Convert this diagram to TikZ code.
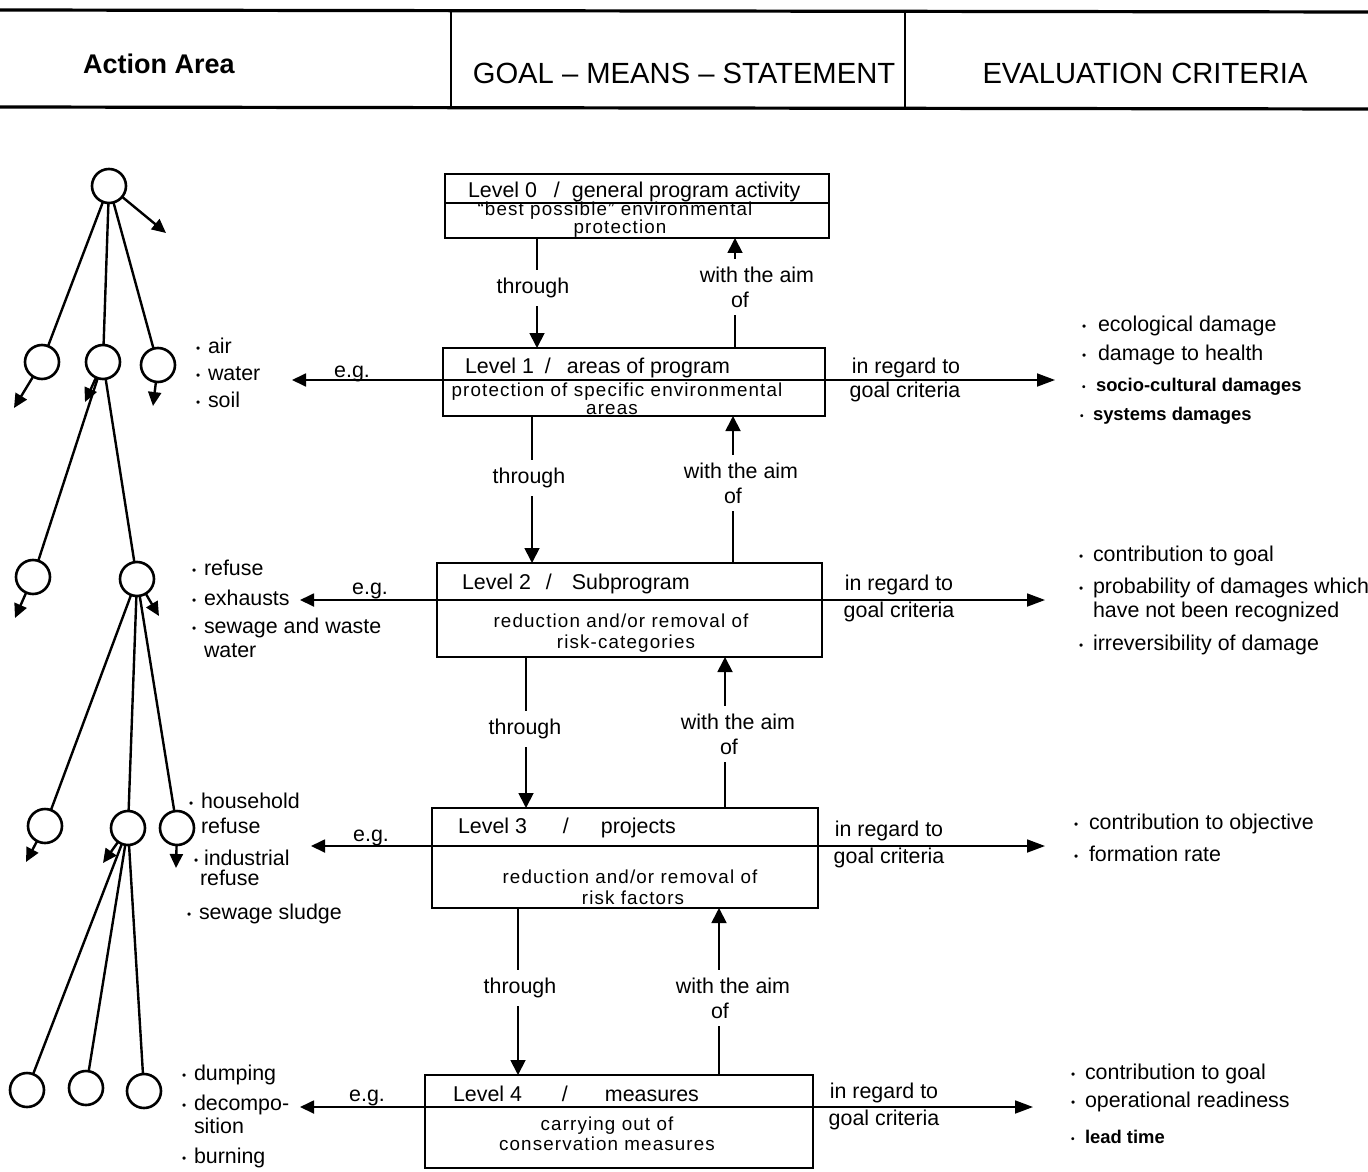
\documentclass[tikz,border=0pt]{standalone}
\usepackage{fontspec}
\setmainfont{Liberation Sans}
\newfontfamily\boxfont[LetterSpace=6]{Liberation Sans}
\usetikzlibrary{arrows.meta,fit}
% small list bullet, boxed so the item text starts at a fixed offset
\newcommand\itemdot[1][6pt]{\makebox[#1][l]{\raisebox{0.08ex}{\scalebox{0.55}{•}}}}
\begin{document}
\begin{tikzpicture}[x=0.5pt,y=-0.5pt,
  every node/.style={inner sep=0pt,outer sep=0pt},
  txt/.style={font=\fontsize{10.7}{12.5}\selectfont},
  boldtxt/.style={font=\fontsize{9.2}{11}\selectfont\bfseries,anchor=base west},
  hdr/.style={font=\fontsize{14.6}{17}\selectfont},
  lst/.style={txt,anchor=base west},
  ctr/.style={txt,anchor=base},
  boxtxt/.style={font=\fontsize{9.4}{11}\boxfont,anchor=base},
  lab/.style={txt,fill=white,inner xsep=2pt,inner ysep=4pt,align=center},
  lvlbox/.style={draw,line width=0.8pt,inner sep=0pt},
  conn/.style={line width=0.9pt},
  downtip/.style={-{Triangle[length=7.5pt,width=7.5pt]}},
  ltip/.style={-{Triangle[length=7pt,width=6.5pt]}},
  rtip/.style={-{Triangle[length=9pt,width=6.5pt]}},
  ring/.style={circle,draw,line width=1.3pt,minimum size=17pt},
  limb/.style={line width=1.2pt},
  treetip/.style={-{Triangle[length=7pt,width=6.5pt]}},
  hrule/.style={line width=1.6pt},
  vrule/.style={line width=0.8pt}]
\useasboundingbox (0,0) rectangle (1368,1171);

% ---------- header band ----------
\draw[hrule] (0,10) -- (1368,12);
\draw[hrule] (0,107) -- (1368,109);
\draw[vrule] (451,10) -- (451,108);
\draw[vrule] (905,11) -- (905,108);
\node[font=\fontsize{13.5}{16}\selectfont\bfseries,anchor=base] (hAct) at (159,74) {Action Area};
\node[hdr,anchor=base] (hGoal) at (684,84) {GOAL – MEANS – STATEMENT};
\node[hdr,anchor=base] (hEval) at (1145,84) {EVALUATION CRITERIA};

% ---------- level boxes ----------
\node[lvlbox,fit={(445,174) (829,238)}] (L0) {};
\node[lvlbox,fit={(443,348) (825,416)}] (L1) {};
\node[lvlbox,fit={(437,563) (822,657)}] (L2) {};
\node[lvlbox,fit={(432,808) (818,908)}] (L3) {};
\node[lvlbox,fit={(425,1075) (813,1168)}] (L4) {};
\draw[conn] (L0.west |- 0,203) -- (L0.east |- 0,203);

\node[lst] (L0t) at (468,198) {Level 0\hspace*{8.5pt}/\hspace*{6pt}general program activity};
\node[lst] (L1t) at (465,373) {Level 1\hspace*{5.5pt}/\hspace*{8pt}areas of program};
\node[lst] (L2t) at (462,589) {Level 2\hspace*{7.5pt}/\hspace*{10pt}Subprogram};
\node[lst] (L3t) at (458,833) {Level 3\hspace*{18pt}/\hspace*{16pt}projects};
\node[lst] (L4t) at (453,1101) {Level 4\hspace*{20pt}/\hspace*{18.5pt}measures};

\node[boxtxt] (L0b1) at (615,216) {“best possible” environmental};
\node[boxtxt] (L0b2) at (620,234) {protection};
\node[boxtxt] (L1b1) at (617,396) {protection of specific environmental};
\node[boxtxt] (L1b2) at (612,414) {areas};
\node[boxtxt] (L2b1) at (621,627) {reduction and/or removal of};
\node[boxtxt] (L2b2) at (626,648) {risk-categories};
\node[boxtxt] (L3b1) at (630,883) {reduction and/or removal of};
\node[boxtxt] (L3b2) at (633,904) {risk factors};
\node[boxtxt] (L4b1) at (607,1130) {carrying out of};
\node[boxtxt] (L4b2) at (607,1150) {conservation measures};

% ---------- vertical links between levels ----------
\draw[conn,downtip] (L0.south -| 537,0) -- (L1.north -| 537,0);
\draw[conn,downtip] (L1.north -| 735,0) -- (L0.south -| 735,0);
\draw[conn,downtip] (L1.south -| 532,0) -- (L2.north -| 532,0);
\draw[conn,downtip] (L2.north -| 733,0) -- (L1.south -| 733,0);
\draw[conn,downtip] (L2.south -| 526,0) -- (L3.north -| 526,0);
\draw[conn,downtip] (L3.north -| 725,0) -- (L2.south -| 725,0);
\draw[conn,downtip] (L3.south -| 518,0) -- (L4.north -| 518,0);
\draw[conn,downtip] (L4.north -| 719,0) -- (L3.south -| 719,0);

\node[lab] (th01) at (533,288) {through};
\node[lab] (th12) at (529,478) {through};
\node[lab] (th23) at (525,729) {through};
\node[lab] (th34) at (520,988) {through};
\node[lab] (wa01) at (757,287) {with the aim\\of\hspace*{17pt}};
\node[lab] (wa12) at (741,483) {with the aim\\of\hspace*{8pt}};
\node[lab] (wa23) at (738,734) {with the aim\\of\hspace*{9pt}};
\node[lab] (wa34) at (733,998) {with the aim\\of\hspace*{13pt}};

% ---------- horizontal links: examples (left) and criteria (right) ----------
\coordinate (gL1) at (292,380);  \coordinate (gR1) at (1055,380);
\coordinate (gL2) at (300,600);  \coordinate (gR2) at (1045,600);
\coordinate (gL3) at (311,846);  \coordinate (gR3) at (1045,846);
\coordinate (gL4) at (300,1107); \coordinate (gR4) at (1033,1107);
\foreach \k in {1,2,3,4}{
  \draw[conn] (L\k.west |- gL\k) -- (L\k.east |- gL\k);
  \draw[conn,ltip] (L\k.west |- gL\k) -- (gL\k);
  \draw[conn,rtip] (L\k.east |- gR\k) -- (gR\k);
}
\node[ctr] (eg1) at (352,377) {e.g.};
\node[ctr] (eg2) at (370,594) {e.g.};
\node[ctr] (eg3) at (371,841) {e.g.};
\node[ctr] (eg4) at (367,1101) {e.g.};
\node[ctr] (rg1a) at (906,373) {in regard to};
\node[ctr] (rg1b) at (905,397) {goal criteria};
\node[ctr] (rg2a) at (899,590) {in regard to};
\node[ctr] (rg2b) at (899,617) {goal criteria};
\node[ctr] (rg3a) at (889,836) {in regard to};
\node[ctr] (rg3b) at (889,863) {goal criteria};
\node[ctr] (rg4a) at (884,1098) {in regard to};
\node[ctr] (rg4b) at (884,1125) {goal criteria};

% ---------- action-area examples ----------
\node[lst] (x1a) at (196,353) {\itemdot air};
\node[lst] (x1b) at (196,380) {\itemdot water};
\node[lst] (x1c) at (196,407) {\itemdot soil};
\node[lst] (x2a) at (192,575) {\itemdot refuse};
\node[lst] (x2b) at (192,605) {\itemdot exhausts};
\node[lst] (x2c) at (192,633) {\itemdot sewage and waste};
\node[lst] (x2d) at (204,657) {water};
\node[lst] (x3a) at (189,808) {\itemdot household};
\node[lst] (x3b) at (201,833) {refuse};
\node[lst] (x3c) at (194,865) {\itemdot[5pt]industrial};
\node[lst] (x3d) at (200,885) {refuse};
\node[lst] (x3e) at (187,919) {\itemdot sewage sludge};
\node[lst] (x4a) at (182,1080) {\itemdot dumping};
\node[lst] (x4b) at (182,1110) {\itemdot decompo-};
\node[lst] (x4c) at (194,1133) {sition};
\node[lst] (x4d) at (182,1163) {\itemdot burning};

% ---------- evaluation criteria ----------
\node[lst] (c1a) at (1082,331) {\itemdot[8pt]ecological damage};
\node[lst] (c1b) at (1082,360) {\itemdot[8pt]damage to health};
\node[boldtxt] (c1c) at (1082,391) {\itemdot[7pt]socio-cultural damages};
\node[boldtxt] (c1d) at (1080,420) {\itemdot[6.5pt]systems damages};
\node[lst] (c2a) at (1079,561) {\itemdot[7pt]contribution to goal};
\node[lst] (c2b) at (1079,593) {\itemdot[7pt]probability of damages which};
\node[lst] (c2c) at (1093,617) {have not been recognized};
\node[lst] (c2d) at (1079,650) {\itemdot[7pt]irreversibility of damage};
\node[lst] (c3a) at (1074,829) {\itemdot[7.5pt]contribution to objective};
\node[lst] (c3b) at (1074,861) {\itemdot[7.5pt]formation rate};
\node[lst] (c4a) at (1071,1079) {\itemdot[7pt]contribution to goal};
\node[lst] (c4b) at (1071,1107) {\itemdot[7pt]operational readiness};
\node[boldtxt] (c4c) at (1071,1143) {\itemdot[7pt]lead time};

% ---------- action-area tree ----------
\node[ring] (t0) at (109,186) {};
\node[ring] (a1) at (42,362) {};
\node[ring] (b1) at (103,362) {};
\node[ring] (c1) at (158,365) {};
\node[ring] (a2) at (33,577) {};
\node[ring] (b2) at (137,579) {};
\node[ring] (a3) at (45,826) {};
\node[ring] (b3) at (128,828) {};
\node[ring] (c3) at (177,828) {};
\node[ring] (a4) at (27,1090) {};
\node[ring] (b4) at (86,1088) {};
\node[ring] (c4) at (144,1091) {};

\draw[limb] (t0) -- (a1);
\draw[limb] (t0) -- (b1);
\draw[limb] (t0) -- (c1);
\draw[limb] (b1) -- (a2);
\draw[limb] (b1) -- (b2);
\draw[limb] (b2) -- (a3);
\draw[limb] (b2) -- (b3);
\draw[limb] (b2) -- (c3);
\draw[limb] (b3) -- (a4);
\draw[limb] (b3) -- (b4);
\draw[limb] (b3) -- (c4);

\coordinate (t0x) at (166,233);
\coordinate (a1x) at (14,408);
\coordinate (b1x) at (85,402);
\coordinate (c1x) at (153,406);
\coordinate (a2x) at (15,618);
\coordinate (b2x) at (159,616);
\coordinate (a3x) at (26,862);
\coordinate (b3x) at (103,863);
\coordinate (c3x) at (176,868);
\foreach \n in {t0,a1,b1,c1,a2,b2,a3,b3,c3}{
  \draw[limb,treetip] (\n) -- (\n x);
}
\end{tikzpicture}
\end{document}
